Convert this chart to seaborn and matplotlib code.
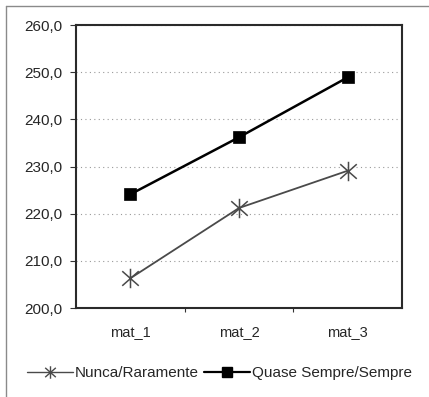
import matplotlib
matplotlib.use("Agg")
import matplotlib.pyplot as plt
from matplotlib.lines import Line2D
from matplotlib.path import Path
from matplotlib.ticker import FixedLocator, FuncFormatter
import numpy as np
import pandas as pd
import seaborn as sns

categories = ["mat_1", "mat_2", "mat_3"]
nunca = [206.3, 221.2, 229.1]
quase = [224.1, 236.2, 248.9]
series_names = ["Nunca/Raramente", "Quase Sempre/Sempre"]

df = pd.DataFrame({
    "cat": categories * 2,
    "x": list(range(len(categories))) * 2,
    "valor": nunca + quase,
    "grupo": [series_names[0]] * 3 + [series_names[1]] * 3,
})

sns.set_style("white")
plt.rcParams["font.family"] = ["Liberation Sans", "DejaVu Sans"]

# star marker: an X crossed by a vertical stroke
star = Path(
    [(0, 1), (0, -1), (-0.85, 0.75), (0.85, -0.75), (-0.85, -0.75), (0.85, 0.75)],
    [Path.MOVETO, Path.LINETO, Path.MOVETO, Path.LINETO, Path.MOVETO, Path.LINETO],
)

fig = plt.figure(figsize=(4.29, 3.97), dpi=100)
ax = fig.add_axes([76 / 429, 1 - 308 / 397, 326 / 429, 283 / 397])

styles = {
    series_names[0]: dict(color="#4a4a4a", lw=1.3, marker=star, ms=14, mew=1.1),
    series_names[1]: dict(color="black", lw=1.8, marker="s", ms=8.5, mew=0.5),
}
for name in series_names:
    st = styles[name]
    sub = df[df["grupo"] == name]
    sns.lineplot(data=sub, x="x", y="valor", ax=ax, color=st["color"],
                 linewidth=st["lw"], marker=st["marker"], markersize=st["ms"],
                 markeredgewidth=st["mew"], markeredgecolor=st["color"],
                 markerfacecolor=st["color"], legend=False)

ax.set_xlim(-0.5, 2.5)
ax.set_ylim(200, 260)
ax.set_xlabel("")
ax.set_ylabel("")
ax.xaxis.set_major_locator(FixedLocator(range(len(categories))))
ax.set_xticklabels(categories)
ax.xaxis.set_minor_locator(FixedLocator([0.5, 1.5]))
ax.set_yticks(np.arange(200, 261, 10))
ax.yaxis.set_major_formatter(FuncFormatter(lambda v, p: f"{v:.1f}".replace(".", ",")))
ax.tick_params(axis="x", which="major", length=0, pad=12, labelsize=10.5)
ax.tick_params(axis="x", which="minor", length=3, width=0.8, color="#333333", direction="out")
ax.tick_params(axis="y", length=4, width=0.8, color="#333333", direction="out", pad=6, labelsize=11)
ax.tick_params(bottom=True, left=True, which="both")

ax.grid(axis="y", color="#9a9a9a", linestyle=(0, (1, 3)), linewidth=0.8)
ax.set_axisbelow(True)
for s in ax.spines.values():
    s.set_visible(True)
    s.set_color("#2a2a2a")
    s.set_linewidth(1.5)

handles = [
    Line2D([], [], color=styles[series_names[0]]["color"], lw=1.0, marker=star,
           ms=9, mew=1.0),
    Line2D([], [], color="black", lw=1.6, marker="s", ms=7),
]
fig.legend(handles, series_names, loc="center", bbox_to_anchor=(0.512, 1 - 373 / 397),
           ncol=2, frameon=False, fontsize=11, handlelength=3.0, handletextpad=0.15,
           columnspacing=0.35)

# outer chart frame (top and left edges)
fig.add_artist(Line2D([6 / 429, 6 / 429], [0, 1 - 6 / 397], transform=fig.transFigure,
                      color="#8a8a8a", lw=1.0))
fig.add_artist(Line2D([6 / 429, 1], [1 - 6 / 397, 1 - 6 / 397], transform=fig.transFigure,
                      color="#8a8a8a", lw=1.0))

fig.savefig("out.png", dpi=100, facecolor="white")
